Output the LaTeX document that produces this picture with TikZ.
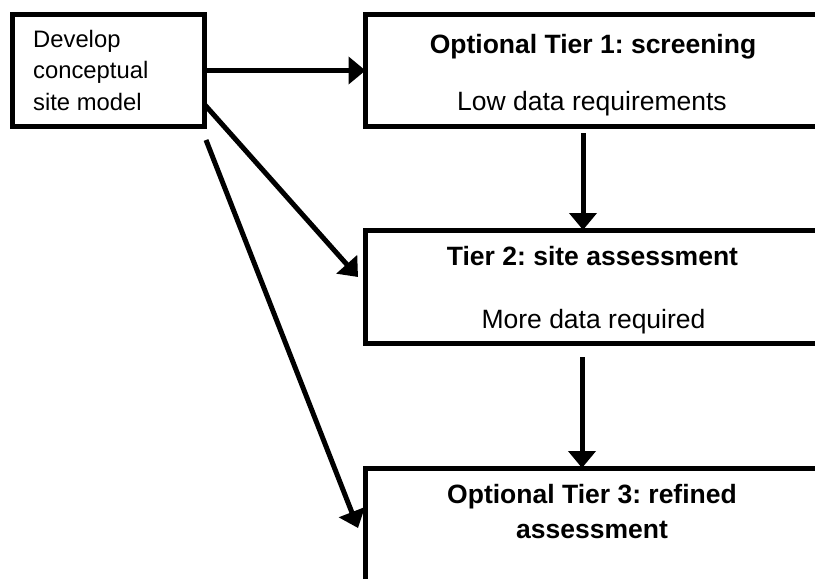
\documentclass[tikz,border=0pt]{standalone}
\usepackage{fontspec}
\setmainfont{Liberation Sans}
\usetikzlibrary{arrows.meta}
\frenchspacing
\begin{document}
\begin{tikzpicture}[x=1pt,y=-1pt,
  boxstyle/.style={draw, line width=5pt, fill=white, inner sep=0pt, outer sep=0pt},
  conn/.style={line width=5pt, -{Triangle[length=17pt,width=27pt]}},
  smalltxt/.style={inner sep=0pt, anchor=base west, font=\fontsize{23.8}{28}\selectfont},
  titletxt/.style={inner sep=0pt, anchor=base, font=\fontsize{26.5}{32}\selectfont\bfseries},
  subtxt/.style={inner sep=0pt, anchor=base, font=\fontsize{26.5}{32}\selectfont}]
\useasboundingbox (0,0) rectangle (815,579);
\fill[white] (0,0) rectangle (815,579);
\clip (0,0) rectangle (815,579);
% boxes
\node[boxstyle, minimum width=192pt, minimum height=112pt] (b1) at (108.5,70.5) {};
\node[boxstyle, minimum width=464.5pt, minimum height=111.5pt] (t1) at (597.75,70.25) {};
\node[boxstyle, minimum width=464.5pt, minimum height=113pt] (t2) at (597.75,286.5) {};
\node[boxstyle, minimum width=464.5pt, minimum height=132pt] (t3) at (597.75,534) {};
% texts
\node[smalltxt] (l1) at (33,47) {Develop};
\node[smalltxt] (l2) at (33,78.5) {conceptual};
\node[smalltxt] (l3) at (33,110) {site model};
\node[titletxt] (t1a) at (593,53) {Optional Tier 1: screening};
\node[subtxt] (t1b) at (592,110) {Low data requirements};
\node[titletxt] (t2a) at (592.5,265) {Tier 2: site assessment};
\node[subtxt] (t2b) at (593.5,328) {More data required};
\node[titletxt] (t3a) at (592,503) {Optional Tier 3: refined};
\node[titletxt] (t3b) at (592,538) {assessment};
% connector end points
\coordinate (a2s) at (205,105);
\coordinate (a2e) at (358,277);
\coordinate (a3s) at (206,140);
\coordinate (a3e) at (358,528);
\coordinate (a4s) at (583,133);
\coordinate (a5s) at (582,357);
% connectors
\draw[conn] (b1.east) -- (b1.east -| t1.west);
\draw[conn] (a2s) -- (a2e);
\draw[conn] (a3s) -- (a3e);
\draw[conn] (a4s) -- (a4s |- t2.north);
\draw[conn] (a5s) -- (a5s |- t3.north);
\end{tikzpicture}
\end{document}
